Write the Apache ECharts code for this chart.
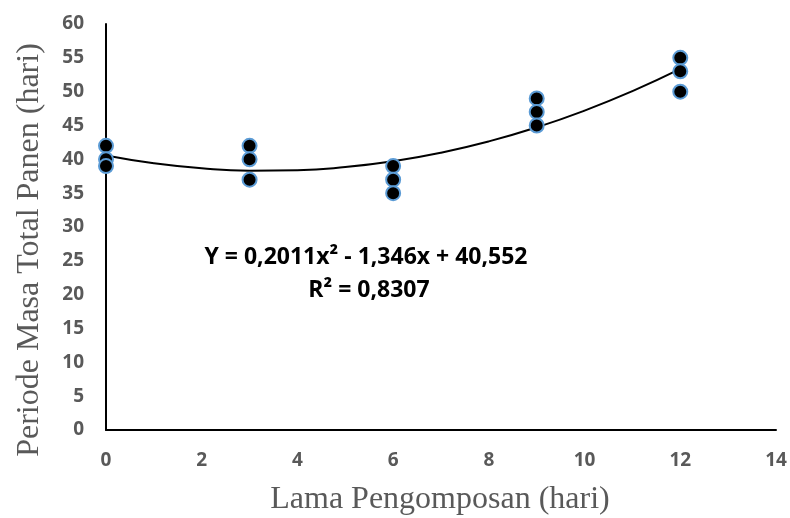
<!DOCTYPE html>
<html>
<head>
<meta charset="utf-8">
<script src="https://cdn.jsdelivr.net/npm/echarts@6/dist/echarts.min.js"></script>
<style>
  html, body { margin: 0; padding: 0; background: #fff; }
  #main { width: 790px; height: 518px; }
</style>
</head>
<body>
<div id="main"></div>
<script>
// hasil pengamatan: lama pengomposan (x) vs periode masa total panen (y)
var xData = [0, 0, 0, 3, 3, 3, 6, 6, 6, 9, 9, 9, 12, 12, 12];
var yData = [42, 40, 39, 42, 40, 37, 39, 37, 35, 49, 47, 45, 55, 53, 50];

// koefisien trendline polinomial orde 2 (dari persamaan di grafik)
var coef = [40.552, -1.346, 0.2011];
var trendX = [0, 1, 2, 3, 4, 5, 6, 7, 8, 9, 10, 11, 12];

var points = xData.map(function (x, i) { return [x, yData[i]]; });
var trend = trendX.map(function (x) {
  return [x, coef[0] + coef[1] * x + coef[2] * x * x];
});

var labelStyle = {
  color: '#595959',
  fontFamily: 'Open Sans',
  fontWeight: 'bold',
  fontSize: 19
};

var option = {
  animation: false,
  grid: {
    left: 106,
    right: 14,
    top: 24,
    bottom: 88
  },
  xAxis: {
    type: 'value',
    min: 0,
    max: 14,
    interval: 2,
    axisLine: { lineStyle: { color: '#000', width: 2 } },
    axisTick: { show: false },
    splitLine: { show: false },
    axisLabel: Object.assign({ margin: 21 }, labelStyle)
  },
  yAxis: {
    type: 'value',
    min: 0,
    max: 60,
    interval: 5,
    axisLine: { show: true, lineStyle: { color: '#000', width: 2 } },
    axisTick: { show: false },
    splitLine: { show: false },
    axisLabel: Object.assign({ margin: 22 }, labelStyle)
  },
  graphic: [
    {
      type: 'text',
      x: 440,
      y: 500,
      style: {
        text: 'Lama Pengomposan (hari)',
        align: 'center',
        verticalAlign: 'middle',
        fill: '#595959',
        font: '32px "Liberation Serif"'
      }
    },
    {
      type: 'text',
      x: 30,
      y: 250,
      rotation: Math.PI / 2,
      style: {
        text: 'Periode Masa Total Panen (hari)',
        align: 'center',
        verticalAlign: 'middle',
        fill: '#595959',
        font: '32px "Liberation Serif"'
      }
    },
    {
      type: 'text',
      x: 366,
      y: 257,
      style: {
        text: 'Y = 0,2011x² - 1,346x + 40,552',
        align: 'center',
        verticalAlign: 'middle',
        fill: '#000',
        font: 'bold 23px "Open Sans"'
      }
    },
    {
      type: 'text',
      x: 369,
      y: 290,
      style: {
        text: 'R² = 0,8307',
        align: 'center',
        verticalAlign: 'middle',
        fill: '#000',
        font: 'bold 23px "Open Sans"'
      }
    }
  ],
  series: [
    {
      name: 'trend',
      type: 'line',
      data: trend,
      smooth: true,
      showSymbol: false,
      lineStyle: { color: '#000', width: 2 },
      z: 2
    },
    {
      name: 'data',
      type: 'scatter',
      data: points,
      symbolSize: 14,
      itemStyle: {
        color: '#000',
        borderColor: '#5b9bd5',
        borderWidth: 2,
        opacity: 1
      },
      z: 3
    }
  ]
};

echarts.init(document.getElementById('main')).setOption(option);
</script>
</body>
</html>
